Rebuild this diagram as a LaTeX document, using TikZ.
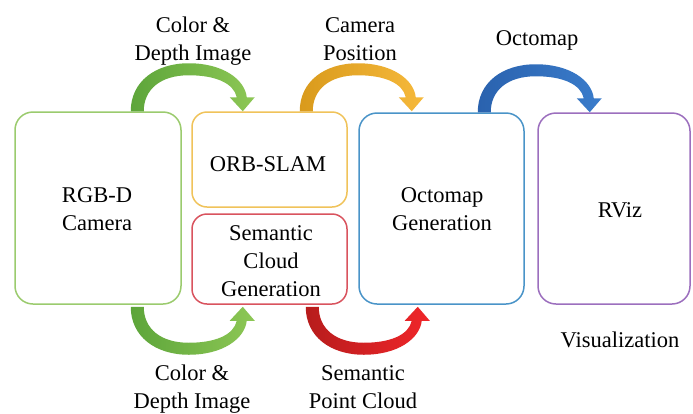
\documentclass[tikz,border=0pt]{standalone}
\usepackage{fontspec}
\setmainfont{Liberation Serif}
\usetikzlibrary{calc}
\definecolor{bgreen}{HTML}{9BCB6E}
\definecolor{borange}{HTML}{F0C35A}
\definecolor{bred}{HTML}{D9535E}
\definecolor{bblue}{HTML}{4A94C8}
\definecolor{bpurple}{HTML}{9C6FBE}
\definecolor{agreenA}{HTML}{5DA53A}
\definecolor{agreenB}{HTML}{8DC755}
\definecolor{aorangeA}{HTML}{D99A1C}
\definecolor{aorangeB}{HTML}{F6B93B}
\definecolor{ablueA}{HTML}{2A62AE}
\definecolor{ablueB}{HTML}{3A7CCB}
\definecolor{aredA}{HTML}{B71C1C}
\definecolor{aredB}{HTML}{F0262A}
\newcommand{\bigarc}[3]{%
  \shade[#1, left color=#2, right color=#3]
    (0,0) .. controls (0,30) and (25,48) .. (58,48)
    .. controls (92,48) and (114,32) .. (116,14)
    -- (124,14) -- (112,0) -- (99,14) -- (106,14)
    .. controls (103,28) and (85,36) .. (58,36)
    .. controls (30,36) and (13,22) .. (13,0) -- cycle;}
\begin{document}
\begin{tikzpicture}[x=1pt,y=-1pt,
  box/.style={draw=#1, line width=1.5pt, rounded corners=18pt, fill=white, inner sep=0pt},
  txt/.style={font=\fontsize{22.5}{28}\selectfont, align=center, inner sep=0pt}]
\useasboundingbox[fill=white] (0,0) rectangle (693,413);
% boxes
\node[box=bgreen, minimum width=166pt, minimum height=192pt] (rgb) at (98,208) {};
\node[box=borange, minimum width=155pt, minimum height=95pt, rounded corners=15pt] (orb) at (269.5,159.5) {};
\node[box=bred, minimum width=155pt, minimum height=90pt, rounded corners=15pt] (sem) at (269.5,259) {};
\node[box=bblue, minimum width=165pt, minimum height=191pt] (oct) at (441.5,208.5) {};
\node[box=bpurple, minimum width=152pt, minimum height=191pt] (rviz) at (614,208.5) {};
% box texts (base = baseline of last line)
\node[txt, anchor=base] (rgbt) at (97,230) {RGB-D\\Camera};
\node[txt, anchor=base] (orbt) at (268,171.5) {ORB-SLAM};
\node[txt, anchor=base] (semt) at (271,296) {Semantic\\Cloud\\Generation};
\node[txt, anchor=base] (octt) at (442,230) {Octomap\\Generation};
\node[txt, anchor=base] (rvizt) at (620,217.5) {RViz};
\node[txt, anchor=base] (vis) at (620,347) {Visualization};
% arrows
\bigarc{shift={($(rgb.north east)+(-51,0)$)}, yscale=-1}{agreenA}{agreenB}
\bigarc{shift={($(orb.north east)+(-48,0)$)}, yscale=-1}{aorangeA}{aorangeB}
\bigarc{shift={($(oct.north east)+(-47,0)$)}, yscale=-1}{ablueA}{ablueB}
\bigarc{shift={($(rgb.south east)+(-51,2)$)}}{agreenA}{agreenB}
\bigarc{shift={($(sem.south east)+(-42,2)$)}}{aredA}{aredB}
% arrow labels
\node[txt, anchor=base] (l1) at (193,60) {Color \&\\Depth Image};
\node[txt, anchor=base] (l2) at (360,60) {Camera\\Position};
\node[txt, anchor=base] (l3) at (537,45) {Octomap};
\node[txt, anchor=base] (l4) at (192,408) {Color \&\\Depth Image};
\node[txt, anchor=base] (l5) at (363,408) {Semantic\\Point Cloud};
\end{tikzpicture}
\end{document}
